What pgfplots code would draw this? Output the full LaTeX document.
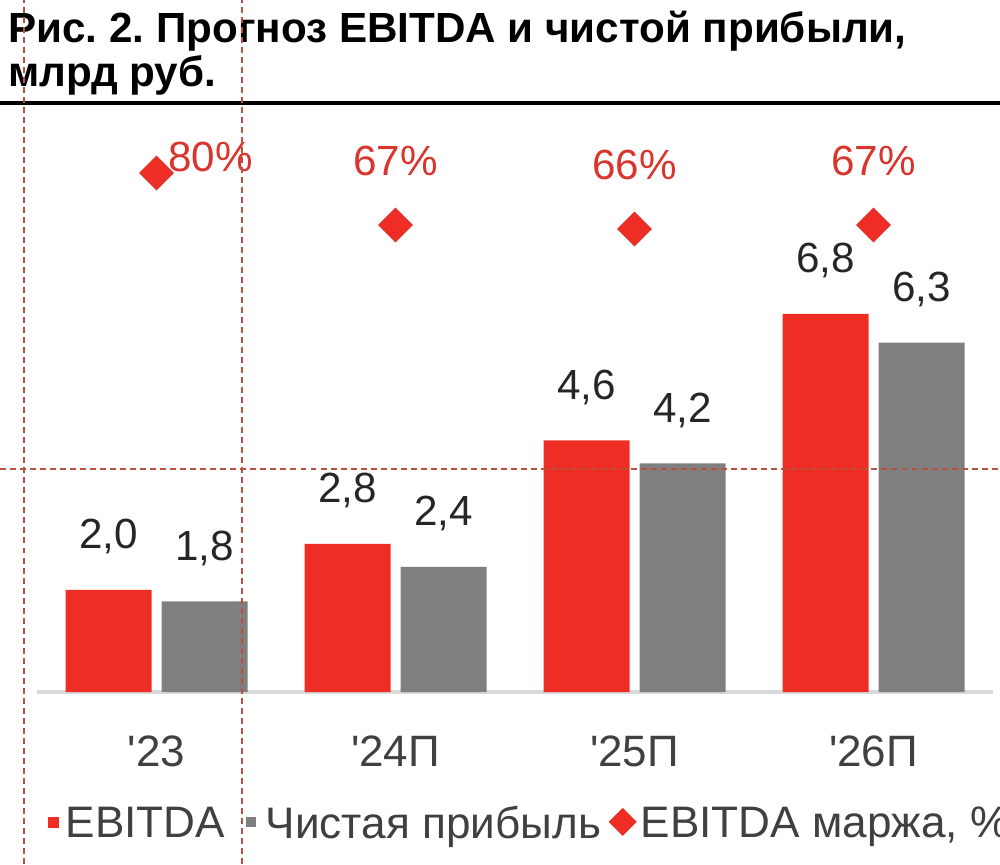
\documentclass[border=0pt]{standalone}
\usepackage{pgfplots}
\pgfplotsset{compat=1.18}
\usepackage{fontspec}
\setmainfont{Liberation Sans}
\frenchspacing

\definecolor{barred}{HTML}{EE2E24}
\definecolor{bargray}{HTML}{7F7F7F}
\definecolor{pctred}{HTML}{DA352C}
\definecolor{guide}{HTML}{B8513F}
\definecolor{lbl}{HTML}{262626}
\definecolor{tick}{HTML}{404040}

\begin{document}
\begin{tikzpicture}
% 1 px of the reference = 0.02 cm, picture is 20 x 17.28 cm

% title
\node[anchor=base west, inner sep=0pt, font=\fontsize{24}{28}\selectfont\bfseries]
  at (0.16,16.42) {Рис. 2. Прогноз EBITDA и чистой прибыли,};
\node[anchor=base west, inner sep=0pt, font=\fontsize{24}{28}\selectfont\bfseries]
  at (0.16,15.54) {млрд руб.};
\draw[line width=0.08cm] (0,15.22) -- (20,15.22);

% bars
\begin{axis}[
  at={(0.74cm,3.44cm)}, anchor=south west,
  width=19.12cm, height=11.5cm, scale only axis,
  xmin=-0.5, xmax=3.5,
  ymin=0.226, ymax=10.226,
  axis y line=none,
  axis x line*=bottom,
  x axis line style={draw=black!15, line width=0.08cm, -},
  xtick={0,1,2,3},
  xticklabels={\textquotesingle23, \textquotesingle24П, \textquotesingle25П, \textquotesingle26П},
  major tick length=0pt,
  xticklabel style={font=\fontsize{25}{28}\selectfont, text=tick, anchor=base, inner sep=0pt, yshift=-1.48cm},
  ybar=0.2cm, bar width=1.72cm,
  nodes near coords,
  point meta=explicit symbolic,
  every node near coord/.append style={font=\fontsize{24}{28}\selectfont, text=lbl,
    inner sep=0pt, text depth=0pt, yshift=0.82cm},
]
\addplot[fill=barred, draw=none] coordinates {
  (0,2.0) [2{,}0]
  (1,2.8) [2{,}8]
  (2,4.6) [4{,}6]
  (3,6.8) [6{,}8]
};
\addplot[fill=bargray, draw=none] coordinates {
  (0,1.8) [1{,}8]
  (1,2.4) [2{,}4]
  (2,4.2) [4{,}2]
  (3,6.3) [6{,}3]
};
\end{axis}

% margin on its own scale, and the legend
\begin{axis}[
  at={(0.74cm,3.44cm)}, anchor=south west,
  width=19.12cm, height=11.5cm, scale only axis,
  xmin=-0.5, xmax=3.5,
  ymin=-49.75, ymax=94,
  axis lines=none,
  point meta=explicit symbolic,
  legend columns=3,
  legend style={draw=none, fill=none, inner sep=0pt, outer sep=0pt,
    at={(0.0115,-0.226)}, anchor=west,
    font=\fontsize{25.1}{28}\selectfont, text=tick,
    nodes={inner sep=0pt, text depth=0pt},
    /tikz/every odd column/.style={column sep=0pt},
    /tikz/every even column/.style={column sep=0pt}},
  legend cell align=left,
]
\addlegendimage{legend image code/.code={
  \fill[barred] (0cm,-0.1cm) rectangle (0.2cm,0.1cm); \path (0.34cm,0cm);}}
\addlegendentry{EBITDA}
\addlegendimage{legend image code/.code={
  \path (-0.42cm,0cm); \fill[bargray] (0cm,-0.09cm) rectangle (0.18cm,0.09cm); \path (0.38cm,0cm);}}
\addlegendentry{Чистая прибыль}
\addlegendimage{legend image code/.code={
  \path (-0.16cm,0cm);
  \fill[barred] (0cm,0cm) -- (0.27cm,0.27cm) -- (0.54cm,0cm) -- (0.27cm,-0.27cm) -- cycle;
  \path (0.62cm,0cm);}}
\addlegendentry{EBITDA маржа, \%}

\addplot[forget plot, only marks, mark=square*, mark size=0.24cm,
  mark options={rotate=45, fill=barred, draw=barred!85!black, line width=0.3pt},
  nodes near coords,
  every node near coord/.append style={font=\fontsize{24}{28}\selectfont, text=pctred,
    inner sep=0pt, text depth=0pt, yshift=0.98cm}]
  coordinates {
  (1,67) [67\%]
  (2,66) [66\%]
  (3,67) [67\%]
};
\addplot[forget plot, only marks, mark=square*, mark size=0.24cm,
  mark options={rotate=45, fill=barred, draw=barred!85!black, line width=0.3pt},
  nodes near coords,
  every node near coord/.append style={font=\fontsize{24}{28}\selectfont, text=pctred,
    inner sep=0pt, text depth=0pt, xshift=1.08cm, yshift=0.02cm}]
  coordinates {
  (0,80) [80\%]
};
\end{axis}

% dashed guide lines that cross the reference
\begin{scope}[guide, line width=0.8pt, dash pattern=on 3.4pt off 2.3pt]
  \draw (0.48,0) -- (0.48,17.28);
  \draw (4.84,0) -- (4.84,17.28);
  \draw (0,7.9) -- (20,7.9);
\end{scope}

\pgfresetboundingbox
\useasboundingbox (0,0) rectangle (20,17.28);
\end{tikzpicture}
\end{document}
